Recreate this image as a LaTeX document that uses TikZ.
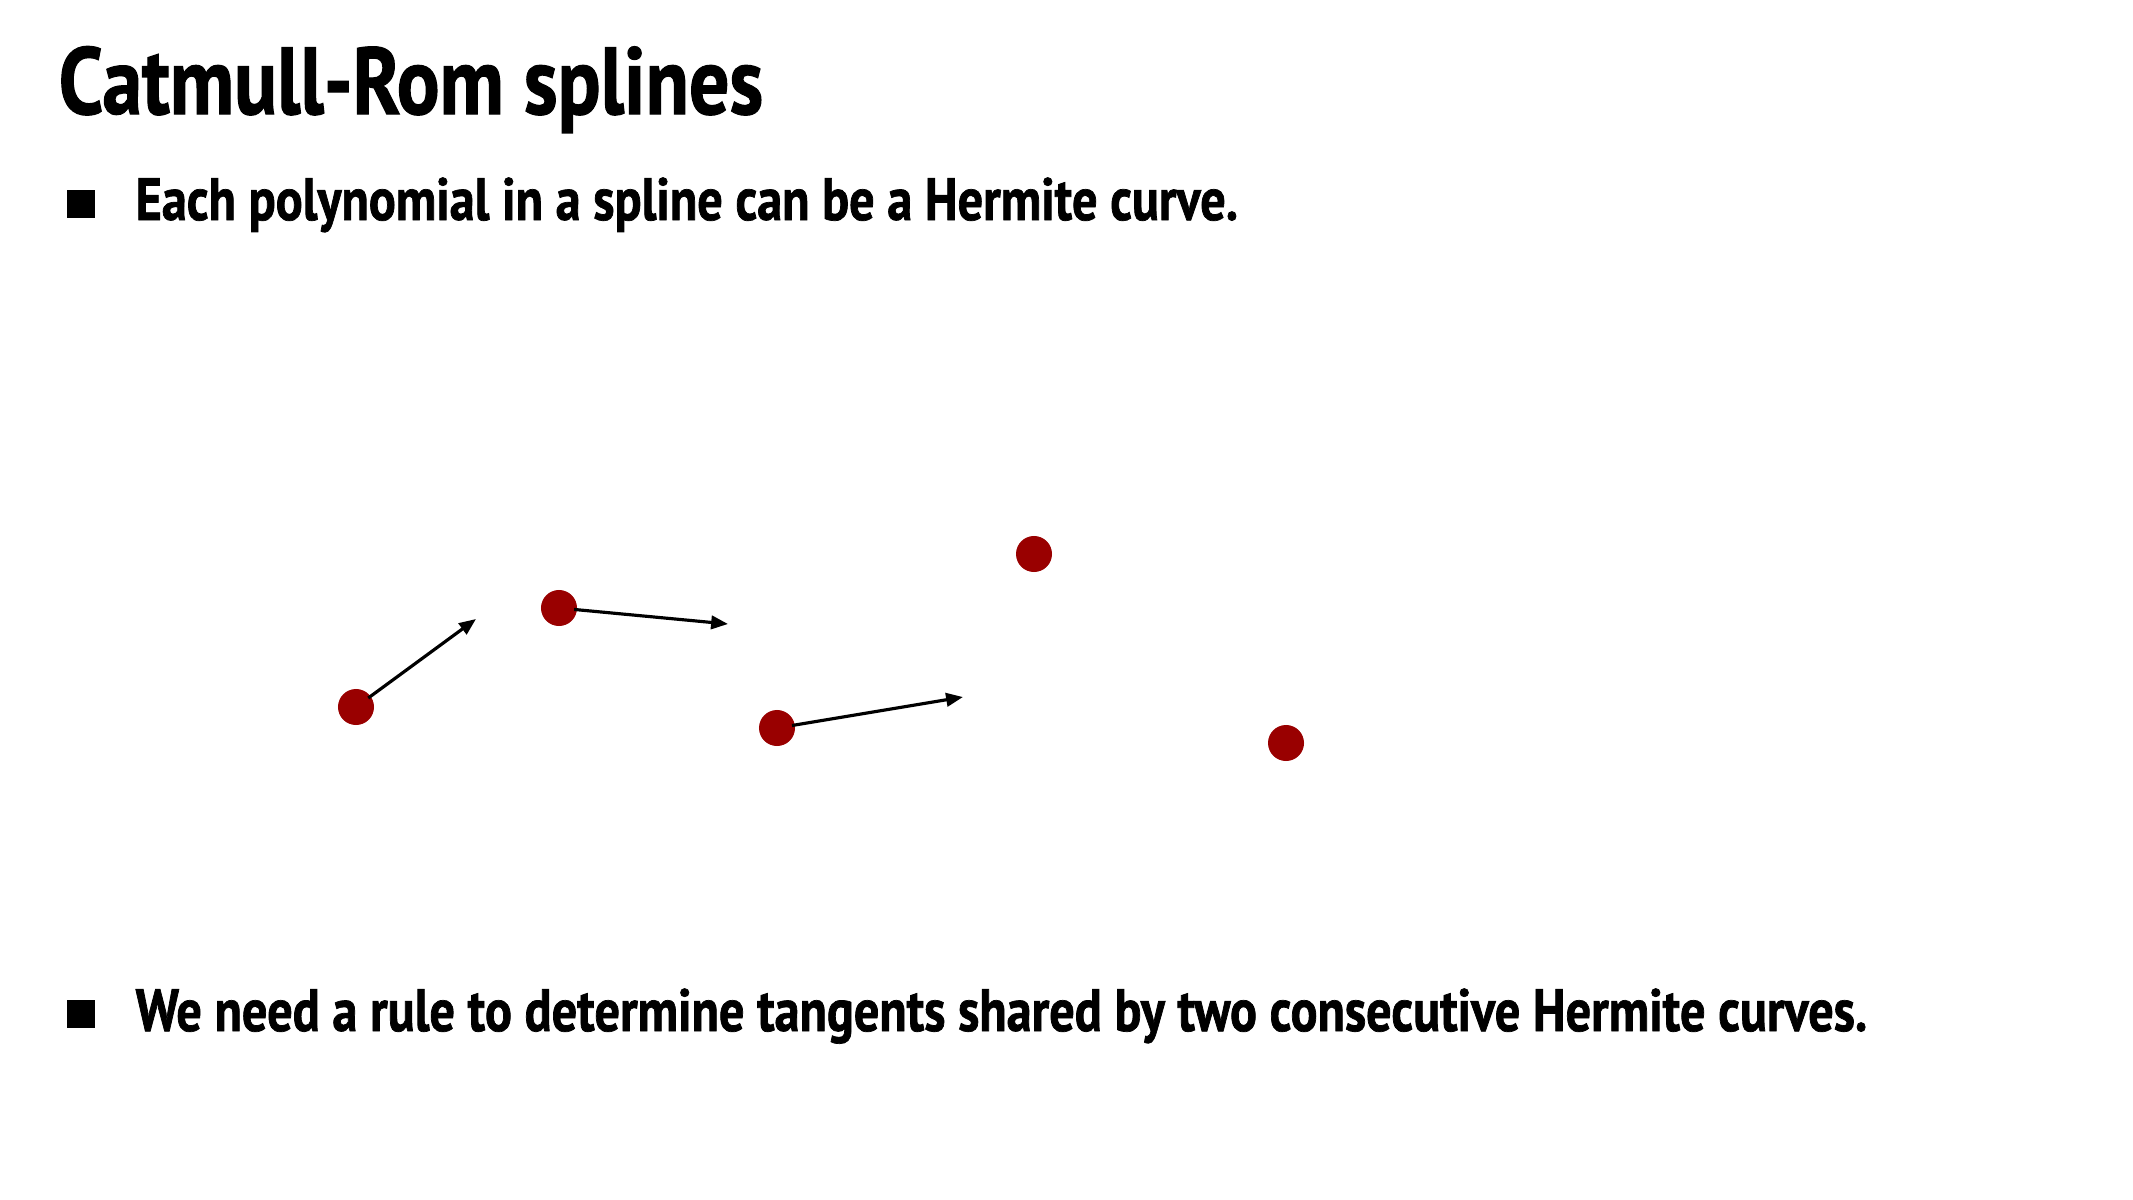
\documentclass[tikz,border=0pt]{standalone}
\usepackage{fontspec}
\setmainfont[FakeStretch=0.84,FakeBold=1.2]{PT Sans}
\usetikzlibrary{arrows.meta,positioning}
\definecolor{dotred}{HTML}{990000}

\begin{document}
\begin{tikzpicture}[
  x=0.01cm, y=-0.01cm,
  >={Triangle[length=4.8pt,width=3.8pt]},
  pt/.style={circle, fill=dotred, inner sep=0pt, minimum size=0.36cm},
  arr/.style={->, line width=0.9pt, color=black, shorten <=-1pt},
  ttl/.style={anchor=base west, inner sep=0pt, font=\fontsize{27}{30}\selectfont\bfseries},
  itm/.style={anchor=base west, inner sep=0pt, font=\fontsize{17}{20}\selectfont\bfseries},
  bul/.style={fill=black, inner sep=0pt, minimum size=0.28cm},
]
\useasboundingbox (0,0) rectangle (2133,1200);

% title and bullets
\node[ttl] (title) at (58,114) {Catmull-Rom splines};
\node[bul] (b1) at (81,204) {};
\node[itm] (t1) at (135,220) {Each polynomial in a spline can be a Hermite curve.};
\node[bul] (b2) at (81,1014) {};
\node[itm] (t2) at (135,1031) {We need a rule to determine tangents shared by two consecutive Hermite curves.};

% control points
\node[pt] (p0) at (356,707) {};
\node[pt] (p1) at (559,608) {};
\node[pt] (p2) at (777,728) {};
\node[pt] (p3) at (1034,554) {};
\node[pt] (p4) at (1286,743) {};

% tangents
\coordinate (t0) at (476,619);
\coordinate (t1e) at (728,624);
\coordinate (t2e) at (963,697);

\draw[arr] (p0) -- (t0);
\draw[arr] (p1) -- (t1e);
\draw[arr] (p2) -- (t2e);

\end{tikzpicture}
\end{document}
